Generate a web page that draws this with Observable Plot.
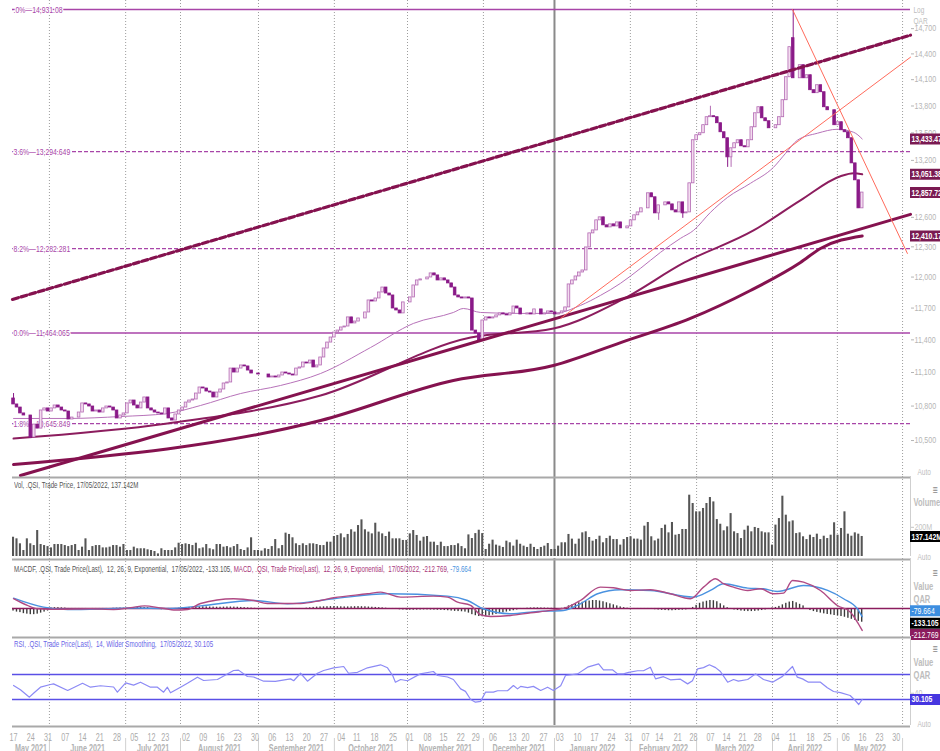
<!DOCTYPE html>
<html>
<head>
<meta charset="utf-8">
<script src="https://cdn.jsdelivr.net/npm/d3@7"></script>
<script src="https://cdn.jsdelivr.net/npm/@observablehq/plot@0.6"></script>
<style>
html,body{margin:0;padding:0;background:#fff;}
#chart{position:relative;width:940px;height:751px;overflow:hidden;background:#fff;}
#chart svg{position:absolute;left:0;}
.hdr{position:absolute;left:14px;font-family:'Liberation Sans Narrow','Liberation Sans',sans-serif;font-size:9px;white-space:nowrap;line-height:10px;transform:scaleX(0.685);transform-origin:0 0;}
</style>
</head>
<body>
<div id="chart"></div>
<script>
// ---------------- DATA (trading-day index t: 0 = 17 May 2021, 246 = 17 May 2022) ----------------
const closes = [
10814,10787,10735,10717,10717,10526,10638,10603,10761,10779,
10752,10779,10805,10787,10761,10752,10682,10699,10699,10743,
10823,10814,10796,10752,10761,10743,10779,10796,10787,10761,
10691,10717,10735,10823,10849,10805,10779,10831,10876,10779,
10761,10743,10735,10726,10779,10691,10673,10726,10761,10787,
10831,10849,10858,10911,10965,10956,10929,10920,10876,10920,
10947,11001,11010,11136,11100,11136,11164,11155,11118,11091,
11091,11082,11082,11082,11055,11064,11055,11073,11100,11091,
11082,11073,11136,11146,11191,11182,11209,11146,11164,11237,
11320,
11375,11422,11468,11487,11516,11525,11611,11554,11572,11601,
11601,11658,11773,11763,11792,11850,11898,11840,11821,11696,
11677,11649,11754,11754,11802,11918,11967,11977,11977,11996,
12036,12016,11967,11987,11967,11938,11898,11821,11802,11792,
11802,11792,
11487,11459,11394,11582,11611,11601,11611,11630,11649,11639,
11630,11649,11715,11696,11639,11639,11649,11639,11687,11687,
11639,11649,11668,11658,11639,11649,11668,11706,11928,11967,
12006,12045,12065,12294,12436,12466,12569,12600,12518,12497,
12528,12507,12548,
12487,12487,12507,12569,12621,12651,12693,12693,12850,12808,
12641,12724,12724,12755,12734,12672,12651,12755,12641,12651,
12955,13419,13474,13496,13585,13674,13685,13674,13607,13507,
13441,13233,13331,13386,13419,13353,13342,13419,13562,13718,
13786,13662,13629,13551,13551,13585,13674,13865,14128,14479,
14116,14116,14268,14116,14151,13979,13945,14036,13956,13786,
13752,13752,13585,13618,13529,13507,13441,13168,12987,12693,
12857.72];
const firstOpen = 10867;
const openGaps = [[226, 14586]];
// [t, high, low] for visible wicks
const wicks = [[0,10911,null],[5,null,10517],[135,null,11375],[187,null,12569],[194,null,12590],[202,13797,null],[207,null,13125],[208,null,13125],[226,14931.08,null]];

const volumes = [
132,121,87,41,121,87,75,178,82,75,68,59,82,82,82,75,68,75,82,
41,64,121,41,68,75,75,59,59,64,75,75,64,82,41,41,64,53,53,53,
46,41,34,18,53,41,41,41,59,91,82,87,82,75,91,53,59,82,53,46,
82,82,64,68,59,68,82,48,41,59,128,41,41,37,53,48,68,116,53,
75,160,151,128,87,75,87,75,87,87,82,75,75,98,98,137,144,155,128,151,
183,167,212,251,183,167,155,228,167,155,137,167,121,121,121,110,110,155,178,144,
105,132,137,98,98,75,98,68,68,75,75,87,68,53,
148,123,157,180,157,48,84,112,78,71,62,105,94,71,112,84,71,62,84,62,
48,62,71,89,48,48,71,94,94,151,119,84,119,162,169,130,105,116,139,94,
123,139,116,116,78,116,130,135,119,119,112,208,233,135,107,119,192,215,162,233,
146,151,185,185,420,363,306,306,329,363,404,374,253,221,176,203,294,169,157,123,
180,208,169,199,192,169,162,162,78,215,260,413,283,237,244,157,162,135,116,
146,130,153,116,139,123,146,231,146,192,306,153,139,162,153,137.142];

const macdHist = [
-25,-35,-40,-50,-55,-60,-60,-55,-45,-35,-25,
5,8,8,6,4,
-2,-3,-4,-3,-2,-1,0,-2,-3,-4,-3,-2,-1,2,3,4,3,2,1,
8,10,12,10,8,
-4,-8,-10,-12,-10,-8,-5,
-2,2,5,8,
10,12,14,15,16,15,14,13,12,12,13,14,14,13,12,10,8,6,4,2,
-2,-5,-8,-9,-10,-9,-8,-8,-7,-6,-5,-4,-2,0,3,6,
10,13,15,16,17,18,18,17,16,15,15,16,17,18,17,16,14,12,10,8,6,3,
-3,-6,-10,-13,-15,-16,-17,-17,-16,-15,-14,-14,-15,-16,-17,-18,-20,-22,-25,-28,-30,-32,-35,
-45,-60,-70,-78,-80,-78,-72,-65,-58,-50,-42,-35,-28,-22,
-15,-8,-2,3,5,6,6,5,4,3,2,1,0,2,
10,25,35,45,55,60,68,72,77,77,72,65,55,45,35,25,15,
8,3,0,-2,-3,-2,-1,-3,
-8,-12,-15,-18,-20,-22,-22,-20,-18,-16,-14,-10,
10,30,50,62,70,77,75,65,45,25,8,
-8,-15,-20,-25,-28,-30,-30,-28,-25,-20,-15,-8,
5,10,20,35,50,62,68,55,40,25,
-10,-20,-30,-38,-45,-52,-58,-62,-68,-72,-78,-85,-95,-105,-115,-125,-133.105];

const macdLine = [[0,94],[4,29],[7,-3],[13.6,-8],[22.3,-3],[29,-10],[34,8],[38,25],[42.6,5],[47,-15],[50.4,-10],[54.2,48],[63.8,94],[69.6,77],[73.6,48],[83.2,48],[89,77],[92.8,103],[102.6,142],[106.4,158],[112.2,110],[121.7,119],[125.8,110],[128.7,61],[132.5,29],[135.4,-61],[138.3,-77],[144.1,-68],[149.9,-42],[155.7,-19],[160.6,13],[164.3,77],[170.1,206],[173.9,200],[178.8,174],[184.6,181],[190.4,142],[196.2,94],[200,206],[203.5,287],[205.8,239],[208.7,206],[212.8,174],[216.5,190],[220.3,142],[223.2,148],[225.8,271],[229,254],[233.9,174],[238.8,29],[242.6,-36],[244.6,-132],[246,-212.769]];
const signalLine = [[0,100],[8.7,13],[15.7,-10],[25.2,-5],[34.8,5],[44.6,0],[54.2,25],[69.6,77],[79.4,45],[92.8,94],[108.4,142],[125.8,119],[131.6,77],[136.2,-3],[144.1,-51],[151.9,-29],[159.4,-19],[164.3,45],[169.3,142],[175.9,181],[184.6,174],[197.1,110],[202,174],[205.8,239],[212.8,197],[217.4,190],[221.4,164],[229,222],[236,174],[240.6,94],[244.6,-3],[246,-79.664]];

const rsiLine = [[0,52.4],[2,45.5],[4.6,33.7],[5.8,40],[7.8,49.7],[10.7,54],[11.6,55],[15.7,44.4],[20,56],[22.3,49.7],[25.2,52],[29,50],[30.1,41.7],[32.5,56.6],[34.8,53],[36.8,57.7],[39.7,49.7],[41.7,49.7],[43.5,41.7],[44.6,49.7],[45.5,40.7],[48.4,49.7],[50.4,56],[53.3,65.7],[55.1,60.4],[59.1,62],[63.8,76.4],[65.2,77],[67.8,66.8],[69.6,66],[72.5,59.3],[75.9,59],[80.3,63],[81.2,60],[83.2,72],[85.2,59.3],[88.1,72],[89.9,76.4],[92.8,80.7],[95.7,82.8],[97.1,72],[99.7,73.5],[102.6,80.7],[106.4,85.5],[108.4,80.7],[109.9,68.4],[110.7,57.7],[112.2,62],[114.2,60],[117.9,71],[121.7,74.8],[122.9,68.4],[125.8,66],[127.5,62],[129.6,47],[131,43],[132.5,30],[133.9,25.7],[135.4,27],[136.8,41.7],[139.1,41.7],[140.3,44],[143.2,44],[144.9,52.4],[146.1,47],[147,51],[149,49],[150.7,51],[152.8,44.4],[154.8,49.7],[156.5,44.4],[158.6,52],[160,68.4],[163.5,71],[166.4,81.7],[169.6,87],[171,77.5],[173.6,77.5],[175.1,71],[176.8,71],[178.3,73.5],[180.9,76],[182.6,76],[184.6,81.7],[186.1,63],[188.4,66.5],[190.4,61.5],[193.3,62.5],[195.4,55],[196.8,60],[198.3,79],[200,81],[201.7,85.5],[203.5,81],[204.9,74.8],[207,57.7],[208.7,62],[210.1,59.5],[212.8,62],[215.1,71],[217.4,62],[220,57.7],[222.9,67],[225.8,82.8],[227.2,65.7],[228.7,63],[230.4,57.7],[233.9,57.7],[235.9,48.7],[237.7,42.8],[239.7,41],[242.5,36.4],[244,28.4],[245,22],[246,30.105]];

// moving averages [t, price]
const ma50 = [[0,10691],[15.7,10691],[31,10708],[44.6,10735],[54.2,10805],[65.8,10911],[77.4,10983],[89,11091],[103.5,11329],[115.9,11554],[127.5,11658],[130.4,11696],[135.4,11658],[147,11649],[156.5,11649],[164.3,11725],[170.1,11821],[175.9,11938],[181.7,12085],[187.5,12244],[193.3,12385],[197.1,12466],[202,12651],[207,12808],[213.6,12955],[220.3,13126],[223.8,13277],[227.2,13419],[233,13496],[238.8,13540],[243.5,13507],[246,13433.47]];
const ma100 = [[0,10517],[44.6,10647],[89,10893],[132.5,11422],[156.5,11506],[176,11773],[194.5,12144],[214.5,12466],[228.1,12776],[239.7,13030],[243.5,13062],[246,13051.38]];
const ma200 = [[0,10296],[89,10673],[127.5,11028],[156.5,11164],[176,11375],[196.2,11601],[213.6,11869],[228.1,12144],[233.9,12284],[246,12410.17]];

// drawn trend lines [t, price]
const channelTop = [[-0.3,11783],[260,14622]];
const supportTrend = [[2,10204],[260,12631]];
const redRise = [[158.6,11601],[260,14361]];
const redFall = [[225.8,14931.08],[259.1,12234]];

// Fibonacci levels
const fibLevels = [14931.08, 13294.649, 12282.281, 11464.065, 10645.849];
const fibLabels = [".0%\u201414,931.08", "3.6%\u201413,294.649", "8.2%\u201412,282.281", "0.0%\u201411,464.065", "1.8%\u201410,645.849"];

// right-axis tick labels (12,900 sits hidden behind the last-price tag in the original)
const priceTicks = [10500,10800,11100,11400,11700,12000,12300,12600,13200,13500,13800,14100,14400,14700];
const lastValues = [13433.47, 13051.38, 12857.72, 12410.17];
const lastLabels = ["13,433.47", "13,051.38", "12,857.72", "12,410.17"];

const dayTickT = [0,5,10,15,20,25,30,35,40,44,50,55,60,65,70,75,80,85,90,95,99.5,104.6,110,114.8,120,124.6,129.6,134,139,144.6,148.4,153.6,158.3,163.5,168.4,173.3,178.3,183.2,187.2,192.5,197.1,202,206.7,211.3,215.7,220.9,225.8,231,235.9,241.2,246.1,251,255.9];
const dayTickLabels = ["17","24","31","07","14","21","28","05","12","23","02","09","16","23","30","06","13","20","27","04","11","18","25","01","08","15","22","29","06","13","20","27","03","10","17","24","31","07","14","21","28","07","14","21","28","04","11","18","25","06","16","23","30"];
const monthStarts = [10.4,32.5,48.4,71,93,114.2,136.2,156.8,178.8,198,220,238.8,257.7];
const yearStart = 156.8;
const monthNames = ["May 2021","June 2021","July 2021","August 2021","September 2021","October 2021","November 2021","December 2021","January 2022","February 2022","March 2022","April 2022","May 2022"];

// ---------------- LAYOUT ----------------
const W = 940, ML = 12, MR = 30;
const XD = [-0.3, 260];
const FONT = "'Liberation Sans Narrow','Liberation Sans',sans-serif";
const STYLE = {fontFamily: FONT, fontSize: "9px", background: "transparent", overflow: "visible"};
const FIB = "#a845a8";
const MAROON = "#85124f";
const chart = document.getElementById("chart");

function place(svg, top) { svg.style.top = top + "px"; chart.appendChild(svg); }
const lab = (s, x, y, o = {}) => Plot.text([s], {frameAnchor: "top-left", dx: x - ML, dy: y, fill: "#bdbdbd", fontSize: 9, textAnchor: "start", ...o});
const grid = () => [
  Plot.ruleX(monthStarts.filter(d => d !== yearStart), {stroke: "#9d9d9d", strokeDasharray: "1,2", strokeWidth: 1}),
  Plot.ruleX([yearStart], {stroke: "#8a8a8a", strokeWidth: 2})
];

// candles table
const candles = closes.map((c, i) => {
  let o = i === 0 ? firstOpen : closes[i - 1];
  const g = openGaps.find(d => d[0] === i); if (g) o = g[1];
  let hi = Math.max(o, c), lo = Math.min(o, c);
  const w = wicks.find(d => d[0] === i);
  if (w) { if (w[1] != null) hi = w[1]; if (w[2] != null) lo = w[2]; }
  return {t: i, o, c, hi, lo, up: c >= o};
});
const upC = candles.filter(d => d.up), dnC = candles.filter(d => !d.up);
const UPF = "#f3dcef", UPS = "#b46cb4", DN = "#8a1a88";
const fib = fibLevels.map((v, i) => ({v, label: fibLabels[i]}));
const boxes = lastValues.map((v, i) => ({v, label: lastLabels[i]}));
const pair = {x: d => d[0], y: d => d[1]};

// ---------------- MAIN PRICE PANEL ----------------
place(Plot.plot({
  width: W, height: 476, marginLeft: ML, marginRight: MR, marginTop: 0, marginBottom: 0,
  x: {domain: XD, axis: null},
  y: {type: "log", domain: [10196, 15042], axis: null},
  style: STYLE,
  marks: [
    ...grid(),
    Plot.ruleY([fibLevels[0], fibLevels[3]], {stroke: FIB, strokeWidth: 1.5}),
    Plot.ruleY([fibLevels[1], fibLevels[2], fibLevels[4]], {stroke: FIB, strokeWidth: 1.2, strokeDasharray: "4,2"}),
    Plot.text(fib, {y: "v", text: "label", frameAnchor: "left", textAnchor: "start", dx: 1, fill: FIB, stroke: "white", strokeWidth: 3, paintOrder: "stroke", fontSize: 9.5}),
    Plot.line(ma50, {...pair, stroke: "#b772b9", strokeWidth: 1, curve: "monotone-x"}),
    Plot.line(ma100, {...pair, stroke: "#8c1d5e", strokeWidth: 2, curve: "monotone-x"}),
    Plot.line(ma200, {...pair, stroke: MAROON, strokeWidth: 3, curve: "monotone-x"}),
    Plot.ruleX(upC, {x: "t", y1: "lo", y2: "hi", stroke: UPS, strokeWidth: 1}),
    Plot.ruleX(dnC, {x: "t", y1: "lo", y2: "hi", stroke: DN, strokeWidth: 1}),
    Plot.rect(upC, {x1: d => d.t - 0.38, x2: d => d.t + 0.38, y1: "o", y2: "c", fill: UPF, stroke: UPS, strokeWidth: 0.8}),
    Plot.rect(dnC, {x1: d => d.t - 0.38, x2: d => d.t + 0.38, y1: "o", y2: "c", fill: DN, stroke: DN, strokeWidth: 0.8}),
    Plot.line(channelTop, {...pair, stroke: MAROON, strokeWidth: 3.2, strokeDasharray: "6,3"}),
    Plot.line(supportTrend, {...pair, stroke: MAROON, strokeWidth: 3}),
    Plot.line(redRise, {...pair, stroke: "#ff6b5c", strokeWidth: 1}),
    Plot.line(redFall, {...pair, stroke: "#ff6b5c", strokeWidth: 1}),
    Plot.axisY(priceTicks, {anchor: "right", tickSize: 3, tickPadding: 1, tickFormat: d3.format(","), color: "#b5b5b5", fontSize: 8.3, label: null}),
    lab("Log", 913, 6, {fontSize: 9}), lab("QAR", 913, 17, {fontSize: 9}),
    lab("Auto", 917, 468, {fontSize: 9}),
    Plot.ruleY(boxes, {y: "v", x1: 260, x2: 272, stroke: "#7a1a52", strokeWidth: 11}),
    Plot.text(boxes, {x: 260, y: "v", text: "label", textAnchor: "start", dx: 1, fill: "white", fontWeight: "bold", fontSize: 9.5})
  ]
}), 0);

// ---------------- VOLUME PANEL ----------------
place(Plot.plot({
  width: W, height: 82, marginLeft: ML, marginRight: MR, marginTop: 0, marginBottom: 2,
  x: {domain: XD, axis: null},
  y: {domain: [0, 548], axis: null},
  style: STYLE,
  marks: [
    ...grid(),
    Plot.ruleY([548], {dy: 1, stroke: "#a9a9a9", strokeWidth: 2}),
    Plot.ruleX([260], {stroke: "#cfcfcf"}),
    Plot.rect(volumes, {x1: (d, i) => i - 0.3, x2: (d, i) => i + 0.3, y1: 0, y2: d => d, fill: "#555"}),
    Plot.axisY([200], {anchor: "right", tickSize: 3, tickPadding: 1, tickFormat: d => d + "M", color: "#c4c4c4", fontSize: 8.3, label: null}),
    lab("\u2261", 932, 9, {fill: "#888", fontSize: 12}),
    lab("Volume", 913, 22, {fontWeight: "bold", fontSize: 10.5}),
    lab("Auto", 917, 77, {fontSize: 9}),
    Plot.ruleY([137.142], {x1: 260, x2: 272, stroke: "#000", strokeWidth: 11}),
    Plot.text([137.142], {x: 260, y: d => d, text: d => "137.142M", textAnchor: "start", dx: 1, fill: "white", fontWeight: "bold", fontSize: 9.5})
  ]
}), 476);

// ---------------- MACD PANEL ----------------
place(Plot.plot({
  width: W, height: 78, marginLeft: ML, marginRight: MR, marginTop: 0, marginBottom: 0,
  x: {domain: XD, axis: null},
  y: {domain: [-271, 483], axis: null},
  style: STYLE,
  marks: [
    ...grid(),
    Plot.ruleY([483], {dy: 1, stroke: "#a9a9a9", strokeWidth: 2}),
    Plot.ruleX([260], {stroke: "#cfcfcf"}),
    Plot.rect(macdHist, {x1: (d, i) => i - 0.2, x2: (d, i) => i + 0.2, y1: 0, y2: d => d, fill: "#3a3a3a"}),
    Plot.ruleY([0], {stroke: "#8b1c5e", strokeWidth: 1.5}),
    Plot.line(signalLine, {...pair, stroke: "#4a92e0", strokeWidth: 1.4, curve: "monotone-x"}),
    Plot.line(macdLine, {...pair, stroke: "#b04a84", strokeWidth: 1.4, curve: "monotone-x"}),
    lab("\u2261", 932, 10, {fill: "#888", fontSize: 12}),
    lab("Value", 913, 24, {fontWeight: "bold", fontSize: 10.5}),
    lab("QAR", 913, 37, {fontWeight: "bold", fontSize: 10.5}),
    Plot.ruleY([-79.664], {x1: 260, x2: 272, dy: -6, stroke: "#3d8ee0", strokeWidth: 11}),
    Plot.text([-79.664], {x: 260, y: d => d, dy: -6, text: d => "-79.664", textAnchor: "start", dx: 1, fill: "white", fontSize: 9.5}),
    Plot.ruleY([-133.105], {x1: 260, x2: 272, dy: 1, stroke: "#000", strokeWidth: 11}),
    Plot.text([-133.105], {x: 260, y: d => d, dy: 1, text: d => "-133.105", textAnchor: "start", dx: 1, fill: "white", fontWeight: "bold", fontSize: 9.5}),
    Plot.ruleY([-212.769], {x1: 260, x2: 272, dy: 4, stroke: "#8b1c5e", strokeWidth: 11}),
    Plot.text([-212.769], {x: 260, y: d => d, dy: 4, text: d => "-212.769", textAnchor: "start", dx: 1, fill: "white", fontSize: 9.5})
  ]
}), 558);

// ---------------- RSI PANEL ----------------
place(Plot.plot({
  width: W, height: 89, marginLeft: ML, marginRight: MR, marginTop: 0, marginBottom: 0,
  x: {domain: XD, axis: null},
  y: {domain: [-11.6, 130.8], axis: null},
  style: STYLE,
  marks: [
    ...grid(),
    Plot.ruleY([130.8], {dy: 1, stroke: "#a9a9a9", strokeWidth: 2}),
    Plot.ruleX([260], {stroke: "#cfcfcf"}),
    Plot.ruleY([70, 30], {stroke: "#5a4fe6", strokeWidth: 1.5}),
    Plot.line(rsiLine, {...pair, stroke: "#8c8af5", strokeWidth: 1.2}),
    Plot.axisY([40], {anchor: "right", tickSize: 3, tickPadding: 1, color: "#c4c4c4", fontSize: 8.3, label: null}),
    lab("\u2261", 932, 8, {fill: "#888", fontSize: 12}),
    lab("Value", 913, 22, {fontWeight: "bold", fontSize: 10.5}),
    lab("QAR", 913, 35, {fontWeight: "bold", fontSize: 10.5}),
    lab("Auto", 917, 84, {fontSize: 9}),
    Plot.ruleY([30.105], {x1: 260, x2: 272, stroke: "#4636e0", strokeWidth: 11}),
    Plot.text([30.105], {x: 260, y: d => d, text: d => "30.105", textAnchor: "start", dx: 1, fill: "white", fontWeight: "bold", fontSize: 9.5})
  ]
}), 636);

// ---------------- DATE AXIS ----------------
const bounds = [XD[0], ...monthStarts];
const monthCenters = monthNames.map((m, i) => ({m, t: (bounds[i] + bounds[i + 1]) / 2}));
const days = dayTickT.map((t, i) => ({t, label: dayTickLabels[i]}));
place(Plot.plot({
  width: W, height: 26, marginLeft: ML, marginRight: MR, marginTop: 0, marginBottom: 0,
  x: {domain: XD, axis: null},
  y: {domain: [0, 26], axis: null},
  style: STYLE,
  marks: [
    Plot.ruleY([26], {dy: 1, stroke: "#a9a9a9", strokeWidth: 2}),
    Plot.ruleX(monthStarts, {insetTop: 13, stroke: "#d0d0d0"}),
    Plot.text(days, {x: "t", text: "label", frameAnchor: "top", dy: 8, fill: "#ababab", fontSize: 10}),
    Plot.text(monthCenters, {x: "t", text: "m", frameAnchor: "top", dy: 19, fill: "#b3b3b3", fontSize: 10, fontWeight: "bold"})
  ]
}), 725);

// condense the svg texts (the original uses a narrow UI font)
document.querySelectorAll("#chart svg text").forEach(t => {
  const len = t.getComputedTextLength();
  const g = t.closest("g[aria-label]");
  const k = g && /tick label/.test(g.getAttribute("aria-label")) ? 0.85 : 0.72;
  if (len > 0) { t.setAttribute("textLength", (len * k).toFixed(1)); t.setAttribute("lengthAdjust", "spacingAndGlyphs"); }
});

// ---------------- PANEL HEADERS ----------------
const hdr = (html, top, color) => {
  const d = document.createElement("div");
  d.className = "hdr"; d.style.top = top + "px"; d.style.color = color; d.innerHTML = html;
  chart.appendChild(d);
};
hdr("Vol, .QSI, Trade Price, 17/05/2022, 137.142M", 480, "#555");
hdr('<span>MACDF, .QSI, Trade Price(Last),&nbsp; 12, 26, 9, Exponential,&nbsp; 17/05/2022, -133.105, </span><span style="color:#a8357a">MACD, .QSI, Trade Price(Last),&nbsp; 12, 26, 9, Exponential,&nbsp; 17/05/2022, -212.769, </span><span style="color:#4a92e0">-79.664</span>', 564, "#555");
hdr("RSI, .QSI, Trade Price(Last),&nbsp; 14, Wilder Smoothing,&nbsp; 17/05/2022, 30.105", 639, "#6a66e8");
</script>
</body>
</html>
